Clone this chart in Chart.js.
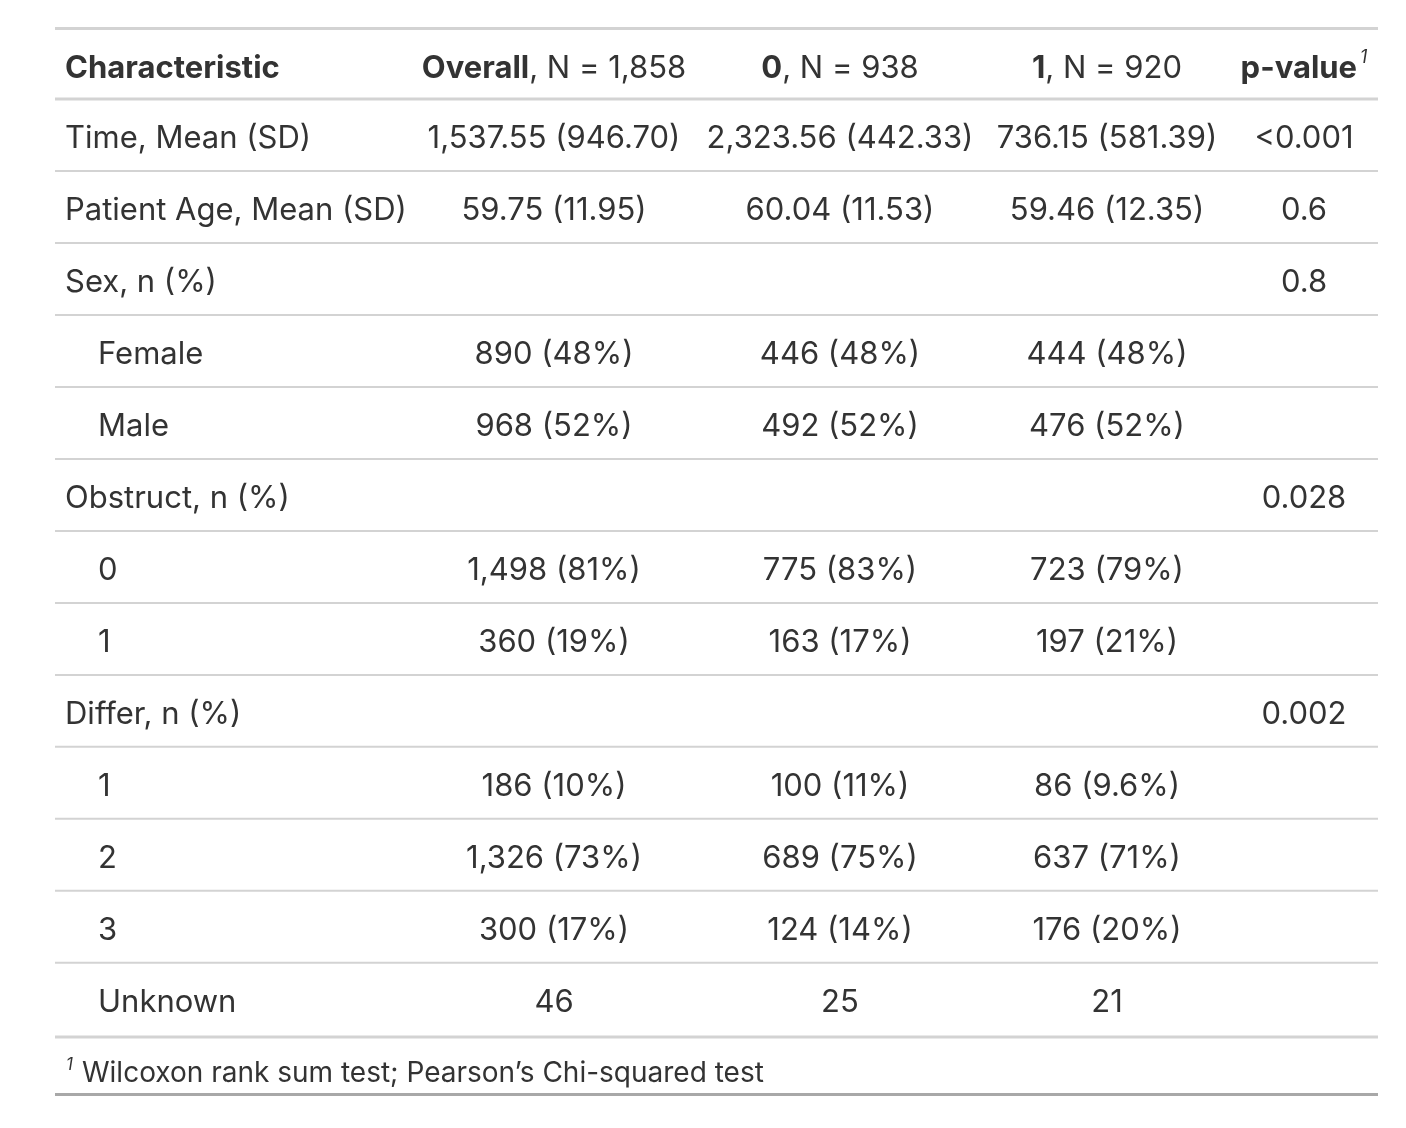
<!DOCTYPE html>
<html><head><meta charset="utf-8">
<script src="https://cdn.jsdelivr.net/npm/chart.js@4"></script>
<style>html,body{margin:0;padding:0;background:#fff;}canvas{display:block;}</style>
</head><body>
<canvas id="c" width="1406" height="1128"></canvas>
<script>
// ---- data ----
const headerBold = ['Characteristic', 'Overall', '0', '1', 'p-value'];
const headerRest = ['', ', N = 1,858', ', N = 938', ', N = 920', ''];
const rowLabels = ['Time, Mean (SD)', 'Patient Age, Mean (SD)', 'Sex, n (%)', 'Female', 'Male', 'Obstruct, n (%)', '0', '1', 'Differ, n (%)', '1', '2', '3', 'Unknown'];
const rowIndent = [0, 0, 0, 1, 1, 0, 1, 1, 0, 1, 1, 1, 1];
const overall = ['1,537.55 (946.70)', '59.75 (11.95)', '', '890 (48%)', '968 (52%)', '', '1,498 (81%)', '360 (19%)', '', '186 (10%)', '1,326 (73%)', '300 (17%)', '46'];
const group0 = ['2,323.56 (442.33)', '60.04 (11.53)', '', '446 (48%)', '492 (52%)', '', '775 (83%)', '163 (17%)', '', '100 (11%)', '689 (75%)', '124 (14%)', '25'];
const group1 = ['736.15 (581.39)', '59.46 (12.35)', '', '444 (48%)', '476 (52%)', '', '723 (79%)', '197 (21%)', '', '86 (9.6%)', '637 (71%)', '176 (20%)', '21'];
const pValues = ['<0.001', '0.6', '0.8', '', '', '0.028', '', '', '0.002', '', '', '', ''];
const footnoteMark = '1';
const footnoteText = 'Wilcoxon rank sum test; Pearson\u2019s Chi-squared test';

// ---- layout / style ----
const FONT = 'Inter, "Noto Sans", sans-serif';
const FS = 31;
const TEXT = '#333333';
const colX = [10, 499, 785, 1052, 1249];   // x-scale positions (label column = left edge)
const indentX = 43;
const columns = [rowLabels, overall, group0, group1, pValues];

const datasets = columns.map((col, ci) => ({
  label: headerBold[ci],
  data: col.map((t, ri) => ({ x: ci === 0 && rowIndent[ri] ? indentX : colX[ci], y: ri })),
  pointRadius: 0,
  showLine: false
}));
datasets.push({ label: 'header', data: headerBold.map((t, ci) => ({ x: colX[ci], y: -1 })), pointRadius: 0, showLine: false });
datasets.push({ label: 'footnote', data: [{ x: colX[0], y: 13 }], pointRadius: 0, showLine: false });

const tablePlugin = {
  id: 'tablePlugin',
  afterDatasetsDraw(chart) {
    const ctx = chart.ctx;
    const xs = chart.scales.x, ys = chart.scales.y;
    const L = xs.getPixelForValue(xs.min), R = xs.getPixelForValue(xs.max);
    const hline = (v, w, c) => {
      const y = ys.getPixelForValue(v);
      ctx.save(); ctx.strokeStyle = c; ctx.lineWidth = w;
      ctx.beginPath(); ctx.moveTo(L, y); ctx.lineTo(R, y); ctx.stroke(); ctx.restore();
    };
    hline(-1.5 + 0.02, 3, '#d3d3d3');
    hline(-0.5, 3, '#d3d3d3');
    for (let i = 0; i < rowLabels.length - 1; i++) hline(i + 0.5, 2, '#d3d3d3');
    hline(rowLabels.length - 0.5 + 0.03, 3, '#d3d3d3');
    hline(ys.max - 0.02, 3, '#a8a8a8');

    ctx.save();
    ctx.fillStyle = TEXT;
    ctx.textBaseline = 'alphabetic';
    const setF = (w, s, it) => { ctx.font = (it ? 'italic ' : '') + w + ' ' + s + 'px ' + FONT; };
    setF(400, FS);
    const capH = ctx.measureText('H').actualBoundingBoxAscent;

    columns.forEach((col, ci) => {
      const meta = chart.getDatasetMeta(ci);
      meta.data.forEach((pt, ri) => {
        const t = col[ri]; if (!t) return;
        setF(400, FS);
        ctx.textAlign = ci === 0 ? 'left' : 'center';
        ctx.fillText(t, pt.x, pt.y + capH / 2 + 2);
      });
    });

    const hm = chart.getDatasetMeta(columns.length);
    hm.data.forEach((pt, ci) => {
      const b = headerBold[ci], r = headerRest[ci];
      setF(700, FS); const wb = ctx.measureText(b).width;
      setF(400, FS); const wr = ctx.measureText(r).width;
      let ws = 0;
      if (ci === 4) { setF(400, 18, true); ws = ctx.measureText('1').width + 3; }
      const total = wb + wr + ws;
      let x0 = ci === 0 ? pt.x : pt.x - total / 2;
      const by = pt.y + capH / 2 + 4;
      ctx.textAlign = 'left';
      setF(700, FS); ctx.fillText(b, x0, by);
      setF(400, FS); ctx.fillText(r, x0 + wb, by);
      if (ci === 4) { setF(400, 18, true); ctx.fillText(footnoteMark, x0 + wb + 3, by - 15); }
    });

    const fm = chart.getDatasetMeta(columns.length + 1).data[0];
    const fy = fm.y + capH / 2;
    setF(400, 17, true); ctx.textAlign = 'left';
    ctx.fillText(footnoteMark, fm.x + 1, fy - 12);
    setF(400, 28);
    ctx.fillText(footnoteText, fm.x + 17, fy);
    ctx.restore();
  }
};

new Chart(document.getElementById('c'), {
  type: 'scatter',
  data: { datasets },
  options: {
    responsive: false,
    animation: false,
    events: [],
    layout: { padding: { left: 55, right: 28, top: 27, bottom: 32 } },
    plugins: { legend: { display: false }, tooltip: { enabled: false } },
    scales: {
      x: { type: 'linear', min: 0, max: 1323, display: false },
      y: { type: 'linear', min: -1.5, max: 13.35, reverse: true, display: false }
    }
  },
  plugins: [tablePlugin]
});
</script>
</body></html>
